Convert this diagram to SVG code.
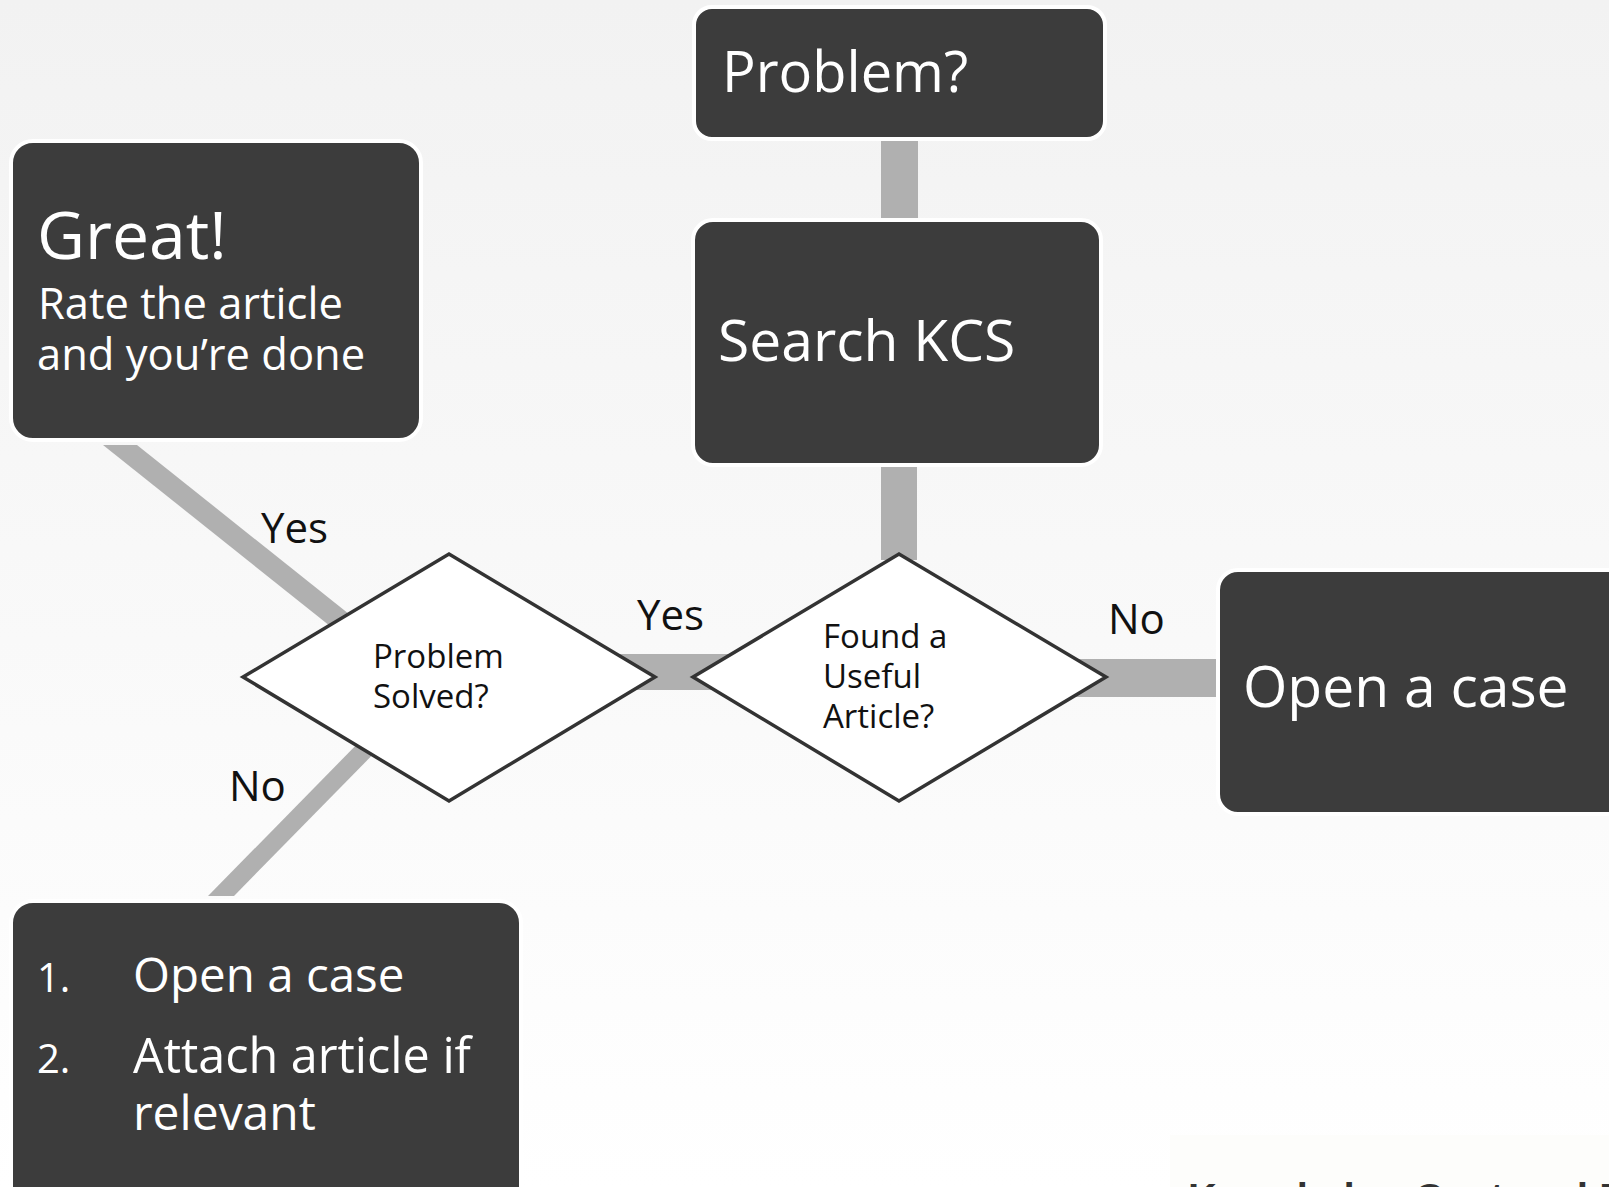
<svg xmlns="http://www.w3.org/2000/svg" width="1609" height="1187" viewBox="0 0 1609 1187">
<defs>
<linearGradient id="bg" x1="0" y1="0" x2="0" y2="1">
<stop offset="0" stop-color="#f2f2f2"/>
<stop offset="1" stop-color="#ffffff"/>
</linearGradient>
<style>
.box{fill:#3c3c3c;stroke:#ffffff;stroke-width:4}
.dia{fill:#ffffff;stroke:#333333;stroke-width:3.5;stroke-linejoin:miter}
.con{fill:#b0b0b0;stroke:none}
.t{font-family:"Open Sans","Noto Sans","Liberation Sans",sans-serif;fill:#ffffff}
.d{font-family:"Open Sans","Noto Sans","Liberation Sans",sans-serif;fill:#111111;font-size:33px}
.lbl{font-family:"Open Sans","Noto Sans","Liberation Sans",sans-serif;fill:#111111;font-size:42px}
</style>
</defs>
<rect x="0" y="0" width="1609" height="1187" fill="url(#bg)"/>
<rect x="1170" y="1135" width="439" height="52" fill="#fdfdfb"/>
<text x="1188" y="1212" font-family="'Liberation Sans',Arial,sans-serif" font-weight="bold" font-size="40" fill="#333333">Knowledge-Centered Ex</text>

<g id="connectors">
<rect class="con" x="881" y="136" width="37" height="88"/>
<rect class="con" x="881" y="460" width="36" height="100"/>
<rect class="con" x="600" y="654" width="200" height="36"/>
<rect class="con" x="1000" y="659" width="220" height="38"/>
<polygon class="con" points="103,445 137,445 369,630 335,630"/>
<polygon class="con" points="208,896 234,896 392,735 366,735"/>
</g>

<g id="problem">
<rect class="box" x="694" y="7" width="411" height="132" rx="18"/>
<text class="t" x="722" y="92" font-size="56">Problem?</text>
</g>

<g id="search">
<rect class="box" x="693" y="220" width="408" height="245" rx="20"/>
<text class="t" x="718" y="361" font-size="57">Search KCS</text>
</g>

<g id="great">
<rect class="box" x="11" y="141" width="410" height="299" rx="22"/>
<text class="t" x="37" y="259" font-size="66">Great!</text>
<text class="t" x="38" y="319" font-size="43.5">Rate the article</text>
<text class="t" x="37" y="370" font-size="43.5">and you’re done</text>
</g>

<g id="open-case">
<rect class="box" x="1218" y="570" width="420" height="244" rx="20"/>
<text class="t" x="1243" y="707" font-size="57">Open a case</text>
</g>

<g id="steps">
<rect class="box" x="11" y="901" width="510" height="320" rx="22"/>
<text class="t" x="37" y="992" font-size="40">1.</text>
<text class="t" x="133" y="992" font-size="47.5">Open a case</text>
<text class="t" x="37" y="1073" font-size="40">2.</text>
<text class="t" x="133" y="1073" font-size="48.5">Attach article if</text>
<text class="t" x="133" y="1130" font-size="48">relevant</text>
</g>

<g id="solved">
<polygon class="dia" points="243,677 449,554 655,677 449,801"/>
<text class="d" x="373" y="668">Problem</text>
<text class="d" x="373" y="708">Solved?</text>
</g>

<g id="found">
<polygon class="dia" points="693,677 899,554 1106,677 899,801"/>
<text class="d" x="823" y="648">Found a</text>
<text class="d" x="823" y="688">Useful</text>
<text class="d" x="823" y="728">Article?</text>
</g>

<g id="labels">
<text class="lbl" x="261" y="543">Yes</text>
<text class="lbl" x="637" y="630">Yes</text>
<text class="lbl" x="1108" y="634">No</text>
<text class="lbl" x="229" y="801">No</text>
</g>
</svg>
